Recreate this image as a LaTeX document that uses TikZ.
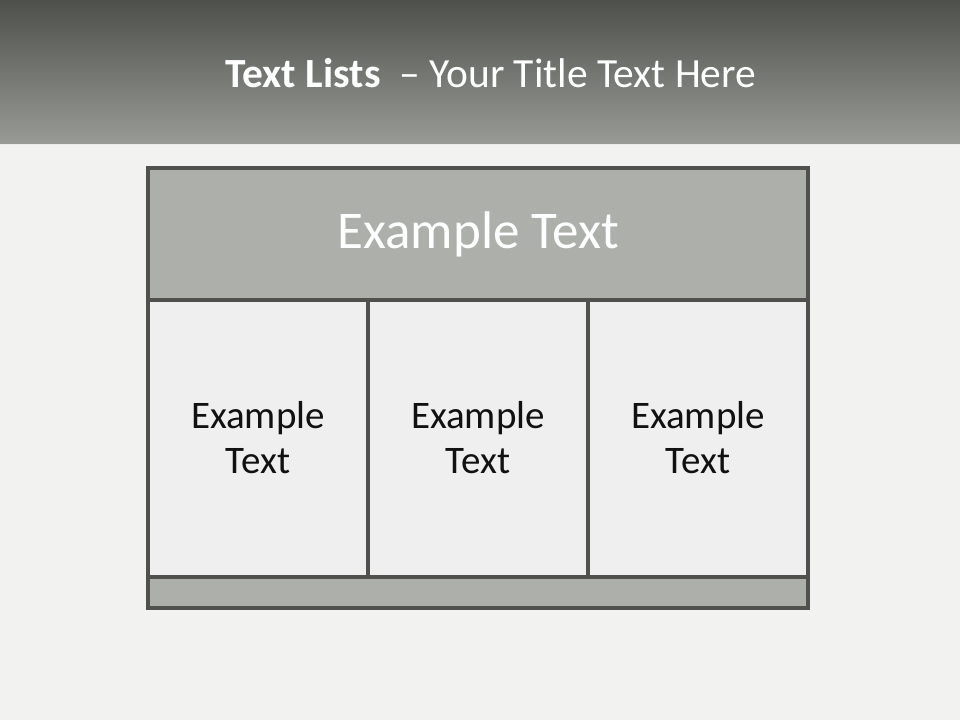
\documentclass[tikz,border=0pt]{standalone}
\usepackage{fontspec}
\setmainfont{Carlito}
\definecolor{bgc}{HTML}{F2F2F0}
\definecolor{bandtop}{HTML}{4E504C}
\definecolor{bandbot}{HTML}{999B96}
\definecolor{edgec}{HTML}{50514C}
\definecolor{headc}{HTML}{ADAFAA}
\definecolor{cellc}{HTML}{EFEFEF}
\definecolor{inkc}{HTML}{111111}
\begin{document}
\begin{tikzpicture}[x=1pt,y=1pt,
  panel/.style={draw=edgec,line width=3.2pt,inner sep=0pt,outer sep=0pt},
  headtxt/.style={text=white,font=\fontsize{53}{57}\selectfont},
  celltxt/.style={text=inkc,align=center,font=\fontsize{39}{45}\selectfont},
  titletxt/.style={text=white,font=\fontsize{41.5}{45}\selectfont}]
\useasboundingbox (0,0) rectangle (960,720);
\fill[bgc] (0,0) rectangle (960,720);
\shade[top color=bandtop,bottom color=bandbot] (0,575) rectangle (960,720);
\draw[white!85!gray,line width=1pt] (0,575) -- (960,575);
% title
\node[titletxt,anchor=base] (title) at (491,632) {\textbf{Text Lists}\ \ – Your Title Text Here};
% panels
\node[panel,fill=headc,minimum width=660,minimum height=132,anchor=north west] (head) at (148,552) {};
\node[panel,fill=cellc,minimum width=220,minimum height=277,anchor=north west] (c1) at (148,420) {};
\node[panel,fill=cellc,minimum width=220,minimum height=277,anchor=north west] (c2) at (368,420) {};
\node[panel,fill=cellc,minimum width=220,minimum height=277,anchor=north west] (c3) at (588,420) {};
\node[panel,fill=headc,minimum width=660,minimum height=31,anchor=north west] (foot) at (148,143) {};
% header text
\node[headtxt,anchor=base] (htxt) at (478.5,471) {Example Text};
% cell texts
\node[celltxt] (t1) at (c1.center) [yshift=1pt] {Example\\Text};
\node[celltxt] (t2) at (c2.center) [yshift=1pt] {Example\\Text};
\node[celltxt] (t3) at (c3.center) [yshift=1pt] {Example\\Text};
\end{tikzpicture}
\end{document}
